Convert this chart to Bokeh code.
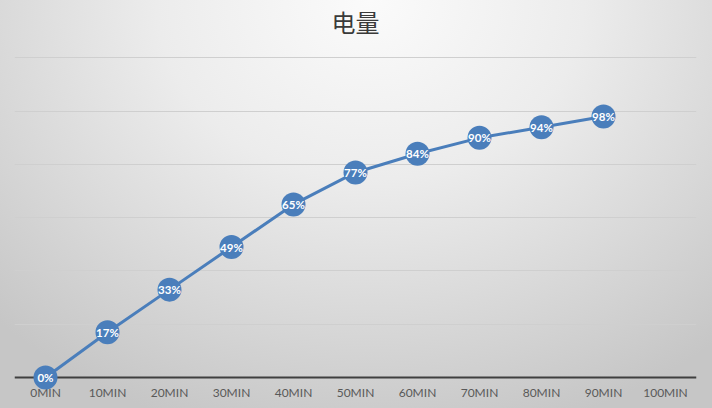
from bokeh.plotting import figure
from bokeh.models import ColumnDataSource, FactorRange, Range1d, FixedTicker, Label, Span
from bokeh.core.properties import value
from bokeh.embed import file_html
from bokeh.resources import INLINE

title_text = "电量"
categories = ["0MIN", "10MIN", "20MIN", "30MIN", "40MIN", "50MIN", "60MIN",
              "70MIN", "80MIN", "90MIN", "100MIN"]
point_cats = ["0MIN", "10MIN", "20MIN", "30MIN", "40MIN", "50MIN", "60MIN",
              "70MIN", "80MIN", "90MIN"]
charge = [0, 17, 33, 49, 65, 77, 84, 90, 94, 98]
labels = [f"{v}%" for v in charge]
grid_ticks = [20, 40, 60, 80, 100, 120]

src = ColumnDataSource(dict(x=point_cats, y=charge, label=labels))

p = figure(width=712, height=408, x_range=FactorRange(*categories),
           y_range=Range1d(-5.63, 141.57), output_backend="svg", toolbar_location=None,
           min_border_left=14, min_border_right=16, min_border_top=0, min_border_bottom=16)

p.background_fill_color = None
p.border_fill_color = None
p.outline_line_color = None
p.styles = {"background": "transparent"}

# chart title, centred over the plot area in the space above the grid
title = Label(x=len(categories) / 2, y=133.8, text=title_text, text_align="center",
              text_baseline="middle", text_font="Noto Sans CJK SC", text_font_size="24px",
              text_color="#3a3a3a")
p.add_layout(title)

p.yaxis.visible = False
p.ygrid.ticker = FixedTicker(ticks=grid_ticks)
p.ygrid.grid_line_color = "#cfcfcf"
p.ygrid.grid_line_width = 1
p.xgrid.visible = False

# horizontal axis line at zero
p.add_layout(Span(location=0, dimension="width", line_color="#3f3f3f", line_width=2))

ax = p.xaxis[0]
ax.axis_line_color = None
ax.major_tick_line_color = None
ax.minor_tick_line_color = None
ax.major_tick_out = 0
ax.major_tick_in = 0
ax.axis_label_standoff = 0
ax.major_label_text_font = "Lato"
ax.major_label_text_font_size = "12px"
ax.major_label_text_color = "#595959"
ax.major_label_standoff = -8

line = p.line("x", "y", source=src, line_color="#4a7ebb", line_width=3, level="overlay")
dots = p.scatter("x", "y", source=src, size=24, fill_color="#4a7ebb", line_color=None, level="overlay")
txt = p.text("x", "y", text="label", source=src, text_align="center", text_baseline="middle",
             text_color="white", text_font=value("Lato"), text_font_size="11.5px",
             text_font_style="bold", level="overlay")

html = file_html(p, INLINE)
css = ('<style>html, body { background: radial-gradient(ellipse 75% 110% at 52% 0%, '
       '#fbfbfb 0%, #ececec 40%, #d6d6d6 75%, #c6c6c6 100%) fixed !important; }</style>')
html = html.replace("</head>", css + "</head>", 1)
open("out.html", "w").write(html)
